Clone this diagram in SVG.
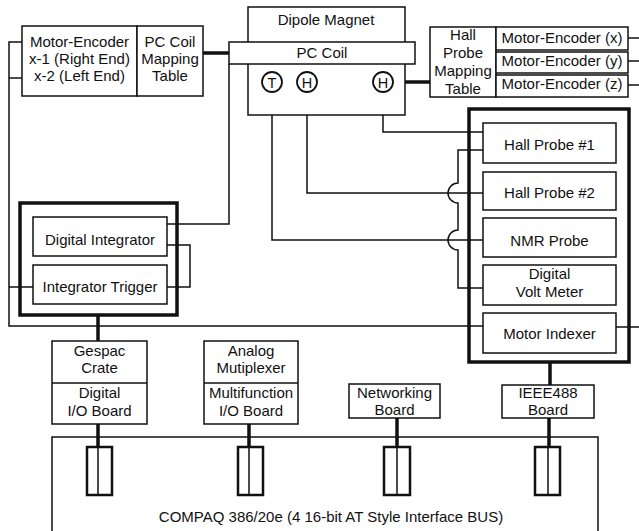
<svg xmlns="http://www.w3.org/2000/svg" width="639" height="531" viewBox="0 0 639 531">
<style>
.b{fill:#fff;stroke:#111;stroke-width:1.5}
.tb{fill:none;stroke:#111;stroke-width:3.5}
.w{fill:none;stroke:#111;stroke-width:1.5}
.thk{fill:none;stroke:#111;stroke-width:3.5}
.c{fill:#fff;stroke:#111;stroke-width:1.8}
text{font-family:"Liberation Sans",Arial,sans-serif;font-size:15px;fill:#111;text-anchor:middle}
.s{font-size:14.5px}
</style>
<rect width="639" height="531" fill="#fff"/>
<g id="connectors">
<path class="w" d="M22,42H9V326H483M9,78H22M9,287H33"/>
<path class="w" d="M616,327H639M628,38H639M628,61H639M628,85H639"/>
<path class="thk" d="M203,53H229"/>
<path class="w" d="M229,64V224H167"/>
<path class="w" d="M167,245H190V287H167"/>
<path class="thk" d="M98,315V341"/>
<path class="w" d="M272,92V240H483"/>
<path class="w" d="M307,92V193H483"/>
<path class="w" d="M383,92V132H483"/>
<path class="w" d="M483,150H458V183A10,10 0 0 0 458,203V230A10,10 0 0 0 458,250V288H483"/>
<path class="thk" d="M393,82H430"/>
<path class="thk" d="M550,362V385"/>
<path class="thk" d="M98,424V447M249,424V447M397,418V447M549,418V447"/>
</g>
<g id="motor-encoder-x">
<rect class="b" x="22" y="26" width="115" height="70"/>
<text x="79.5" y="47">Motor-Encoder</text>
<text x="79.5" y="64">x-1 (Right End)</text>
<text x="79.5" y="81">x-2 (Left End)</text>
</g>
<g id="pc-coil-mapping">
<rect class="b" x="137" y="26" width="66" height="70"/>
<text x="170" y="47">PC Coil</text>
<text x="170" y="64">Mapping</text>
<text x="170" y="81">Table</text>
</g>
<g id="dipole-magnet">
<rect class="b" x="248" y="7" width="157" height="108"/>
<text x="326" y="25">Dipole Magnet</text>
</g>
<g id="pc-coil">
<rect class="b" x="229" y="42" width="186" height="22"/>
<text x="322" y="58">PC Coil</text>
</g>
<g id="sensor-t">
<circle class="c" cx="272" cy="82" r="10"/>
<text class="s" x="272" y="87.5">T</text>
</g>
<g id="sensor-h1">
<circle class="c" cx="307" cy="82" r="10"/>
<text class="s" x="307" y="87.5">H</text>
</g>
<g id="sensor-h2">
<circle class="c" cx="383" cy="82" r="10"/>
<text class="s" x="383" y="87.5">H</text>
</g>
<g id="hall-probe-mapping">
<rect class="b" x="430" y="27" width="66" height="70"/>
<text x="463" y="40">Hall</text>
<text x="463" y="58">Probe</text>
<text x="463" y="76">Mapping</text>
<text x="463" y="94">Table</text>
</g>
<g id="motor-encoder-xyz">
<rect class="b" x="496" y="27" width="132" height="23"/>
<text x="562" y="43">Motor-Encoder (x)</text>
<rect class="b" x="496" y="52" width="132" height="21"/>
<text x="562" y="66">Motor-Encoder (y)</text>
<rect class="b" x="496" y="75" width="132" height="22"/>
<text x="562" y="89">Motor-Encoder (z)</text>
</g>
<g id="instrument-rack">
<rect class="tb" x="469" y="109" width="160" height="253"/>
</g>
<g id="hall-probe-1">
<rect class="b" x="483" y="123" width="133" height="40"/>
<text x="549.5" y="150">Hall Probe #1</text>
</g>
<g id="hall-probe-2">
<rect class="b" x="483" y="172" width="133" height="38"/>
<text x="549.5" y="198">Hall Probe #2</text>
</g>
<g id="nmr-probe">
<rect class="b" x="483" y="218" width="133" height="39"/>
<text x="549.5" y="246">NMR Probe</text>
</g>
<g id="dvm">
<rect class="b" x="483" y="265" width="133" height="40"/>
<text x="549.5" y="279">Digital</text>
<text x="549.5" y="297">Volt Meter</text>
</g>
<g id="motor-indexer">
<rect class="b" x="483" y="313" width="133" height="40"/>
<text x="549.5" y="339">Motor Indexer</text>
</g>
<g id="integrator-rack">
<rect class="tb" x="20" y="203" width="157" height="112"/>
</g>
<g id="digital-integrator">
<rect class="b" x="33" y="217" width="134" height="39"/>
<text x="100" y="245">Digital Integrator</text>
</g>
<g id="integrator-trigger">
<rect class="b" x="33" y="265" width="134" height="39"/>
<text x="100" y="292">Integrator Trigger</text>
</g>
<g id="gespac">
<rect class="b" x="52" y="341" width="95" height="83"/>
<path class="w" d="M52,383H147"/>
<text x="99.5" y="356">Gespac</text>
<text x="99.5" y="373">Crate</text>
<text x="99.5" y="398">Digital</text>
<text x="99.5" y="416">I/O Board</text>
</g>
<g id="analog">
<rect class="b" x="204" y="341" width="94" height="83"/>
<path class="w" d="M204,383H298"/>
<text x="251" y="356">Analog</text>
<text x="251" y="373">Mutiplexer</text>
<text x="251" y="398">Multifunction</text>
<text x="251" y="416">I/O Board</text>
</g>
<g id="networking">
<rect class="b" x="349" y="384" width="91" height="34"/>
<text x="394.5" y="398">Networking</text>
<text x="394.5" y="415">Board</text>
</g>
<g id="ieee488">
<rect class="b" x="502" y="385" width="92" height="33"/>
<text x="548" y="398">IEEE488</text>
<text x="548" y="415">Board</text>
</g>
<g id="compaq">
<path class="w" d="M52,540V437H598V540"/>
<g fill="none" stroke="#111" stroke-width="2.5">
<rect x="87" y="447" width="25" height="48"/>
<rect x="238" y="447" width="25" height="48"/>
<rect x="384" y="447" width="26" height="48"/>
<rect x="535" y="447" width="25" height="48"/>
</g>
<path class="w" d="M98,447V495M249,447V495M397,447V495M548,447V495"/>
<text x="331" y="522">COMPAQ 386/20e (4 16-bit AT Style Interface BUS)</text>
</g>
</svg>
